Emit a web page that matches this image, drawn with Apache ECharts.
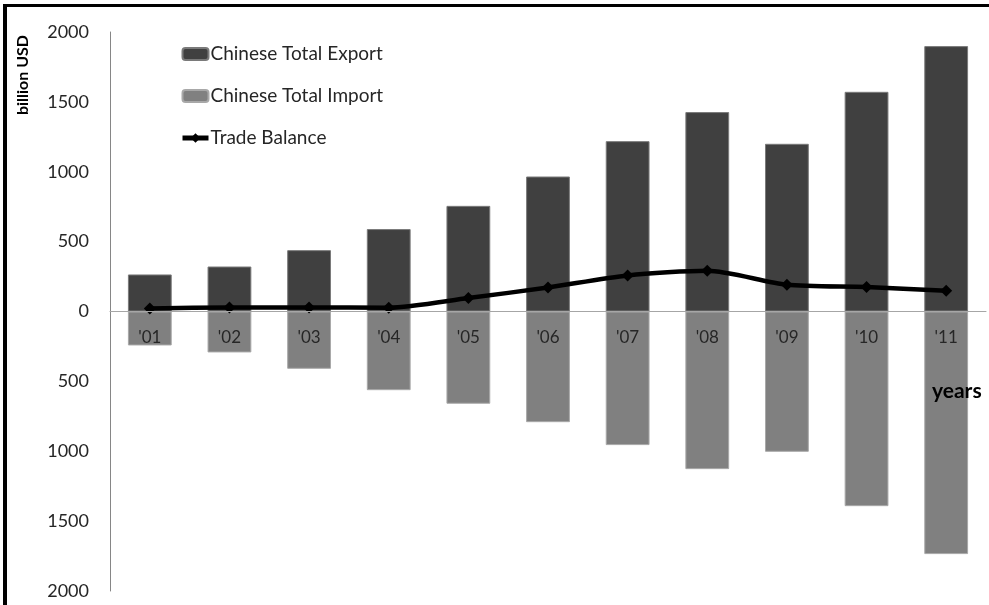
<!DOCTYPE html>
<html>
<head>
<meta charset="utf-8">
<script src="https://cdn.jsdelivr.net/npm/echarts@6/dist/echarts.min.js"></script>
<style>
  html, body { margin: 0; padding: 0; background: #fff; }
  #chart { width: 989px; height: 605px; }
</style>
</head>
<body>
<div id="chart"></div>
<script>
// China's foreign trade, 2001-2011 (billion USD)
const years = ["'01", "'02", "'03", "'04", "'05", "'06", "'07", "'08", "'09", "'10", "'11"];
const exportValues = [265, 322, 439, 590, 756, 966, 1219, 1427, 1200, 1572, 1899];
const importValues = [243, 293, 410, 563, 660, 792, 956, 1128, 1004, 1393, 1736];
const tradeBalance = [22, 29, 29, 27, 96, 172, 258, 291, 191, 175, 148];
const yTicks = { min: -2000, max: 2000, step: 500 };

const FONT = 'Lato';
const GRID = { left: 110, right: 3, top: 32, bottom: 14 };

const chart = echarts.init(document.getElementById('chart'), null, { renderer: 'canvas' });

chart.setOption({
  backgroundColor: '#ffffff',
  animation: false,
  textStyle: { fontFamily: FONT },
  grid: Object.assign({ containLabel: false, outerBoundsMode: 'none' }, GRID),
  legend: {
    orient: 'vertical',
    left: 180,
    top: 44,
    padding: 0,
    itemWidth: 26,
    itemHeight: 12,
    itemGap: 22,
    textStyle: { fontFamily: FONT, fontSize: 19, color: '#262626', lineHeight: 20, padding: [0, 0, 0, -3] },
    lineStyle: { width: 5 },
    data: ['Chinese Total Export', 'Chinese Total Import', 'Trade Balance']
  },
  xAxis: {
    type: 'category',
    data: years,
    z: 10,
    boundaryGap: true,
    axisLine: { onZero: false, lineStyle: { color: '#a6a6a6', width: 1 } },
    axisTick: { show: false },
    axisLabel: { margin: 18, fontSize: 17, color: '#262626', fontFamily: FONT },
    splitLine: { show: false }
  },
  yAxis: {
    type: 'value',
    min: yTicks.min,
    max: yTicks.max,
    interval: yTicks.step,
    axisLine: { show: true, lineStyle: { color: '#868686', width: 1 } },
    axisTick: { show: false },
    splitLine: { show: false },
    axisLabel: {
      margin: 21,
      fontSize: 18,
      color: '#262626',
      fontFamily: FONT,
      formatter: v => String(Math.abs(v))
    }
  },
  series: [
    {
      name: 'Chinese Total Export',
      type: 'bar',
      data: exportValues,
      barWidth: '55%',
      barGap: '-100%',
      itemStyle: { color: '#404040', borderColor: '#7a7a7a', borderWidth: 1 }
    },
    {
      name: 'Chinese Total Import',
      type: 'bar',
      data: importValues.map(v => -v),
      barWidth: '55%',
      barGap: '-100%',
      itemStyle: { color: '#808080', borderColor: '#a8a8a8', borderWidth: 1 }
    },
    {
      name: 'Trade Balance',
      type: 'line',
      data: tradeBalance,
      smooth: 0.25,
      z: 5,
      symbol: 'diamond',
      symbolSize: 12,
      lineStyle: { color: '#000', width: 4.5 },
      itemStyle: { color: '#000' }
    }
  ],
  graphic: [
    // frame lines along the top and left edges
    { type: 'line', z: 100, shape: { x1: 3, y1: 5.5, x2: 989, y2: 5.5 }, style: { stroke: '#000', lineWidth: 3 } },
    { type: 'line', z: 100, shape: { x1: 5, y1: 4, x2: 5, y2: 605 }, style: { stroke: '#000', lineWidth: 4 } },
    {
      type: 'text',
      z: 100,
      left: 15,
      top: 35,
      rotation: Math.PI / 2,
      style: { text: 'billion USD', fontFamily: FONT, fontSize: 16, fontWeight: 'bold', fill: '#000' }
    },
    {
      type: 'text',
      z: 100,
      left: 932,
      top: 381,
      style: { text: 'years', fontFamily: FONT, fontSize: 21, fontWeight: 'bold', fill: '#000' }
    }
  ]
});

// Move the category axis (line and labels) up to the value-axis zero.
const zeroY = chart.convertToPixel({ yAxisIndex: 0 }, 0);
const axisBottomY = chart.getHeight() - GRID.bottom;
chart.setOption({ xAxis: { offset: zeroY - axisBottomY } });
</script>
</body>
</html>
